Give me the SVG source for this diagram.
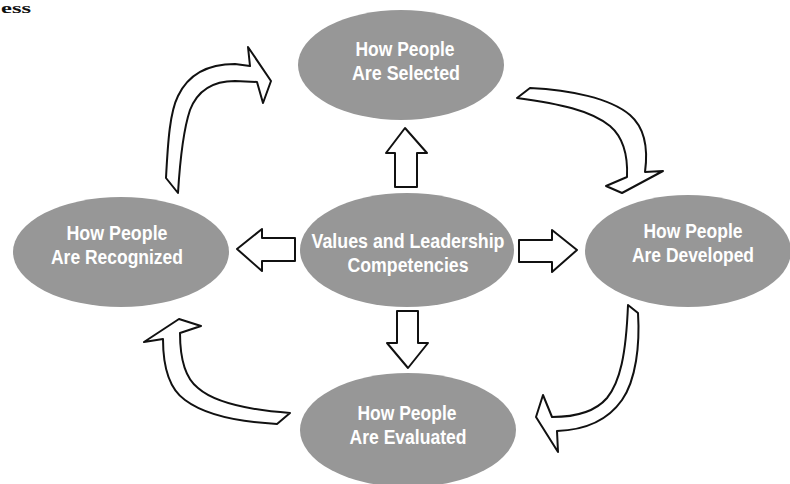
<svg xmlns="http://www.w3.org/2000/svg" width="790" height="484" viewBox="0 0 790 484">
  <style>
    .node { fill: #979797; }
    .label { font-family: "Liberation Sans Narrow", "Liberation Sans", Arial, sans-serif; font-weight: bold; font-size: 20px; fill: #ffffff; text-anchor: middle; }
    .arrow { fill: #ffffff; stroke: #111111; stroke-width: 2; stroke-linejoin: round; }
    .caption { font-family: "Liberation Serif", "Times New Roman", serif; font-weight: bold; font-size: 15px; fill: #111111; }
  </style>
  <rect width="790" height="484" fill="#ffffff"/>

  <!-- caption text at the top edge -->
  <text class="caption" x="1" y="13" textLength="30" lengthAdjust="spacingAndGlyphs">ess</text>

  <!-- connectors: block arrows from the centre and curved cycle arrows -->
  <g id="connectors">
    <!-- up -->
    <path class="arrow" d="M395,187 L395,153 L386,153 L405,128 L427,153 L417,153 L417,187 Z"/>
    <!-- down -->
    <path class="arrow" d="M397,311 L418,311 L418,343 L428,343 L408,368 L387,343 L397,343 Z"/>
    <!-- left -->
    <path class="arrow" d="M295,238 L262,238 L262,229 L237,249 L262,271 L262,261 L295,261 Z"/>
    <!-- right -->
    <path class="arrow" d="M519,240 L552,240 L552,230 L577,250 L552,272 L552,262 L519,262 Z"/>

    <!-- Recognized -> Selected -->
    <path class="arrow" d="M166,178 C168,140 170,112 178,96 C188,75 208,64 235,64 L250,66 L248,47 L271,81 L263,103 L257,82 L235,81 C212,81 197,92 190,110 C184,128 180,160 178,193 Z"/>
    <!-- Selected -> Developed -->
    <path class="arrow" d="M517,98 L530,88 C570,90 610,98 630,115 C645,128 648,150 645,172 L663,171 L622,193 L606,186 L627,177 C628,155 624,138 610,126 C590,110 560,104 517,98 Z"/>
    <!-- Developed -> Evaluated -->
    <path class="arrow" d="M628,305 L638,313 C640,345 636,380 622,400 C608,420 585,430 557,431 L558,452 L536,417 L543,395 L552,417 C575,417 595,412 607,398 C620,382 626,355 628,305 Z"/>
    <!-- Evaluated -> Recognized -->
    <path class="arrow" d="M290,413 L277,424 C240,422 205,415 185,400 C168,388 163,365 163,339 L144,342 L179,319 L201,326 L180,333 C180,360 185,378 198,388 C215,403 250,410 290,413 Z"/>
  </g>

  <g id="node-selected">
    <ellipse class="node" cx="401" cy="65" rx="103" ry="55"/>
    <text class="label" x="405" y="56" textLength="99" lengthAdjust="spacingAndGlyphs">How People</text>
    <text class="label" x="406" y="80" textLength="108" lengthAdjust="spacingAndGlyphs">Are Selected</text>
  </g>

  <g id="node-recognized">
    <ellipse class="node" cx="121" cy="252" rx="108" ry="55"/>
    <text class="label" x="117" y="240" textLength="101" lengthAdjust="spacingAndGlyphs">How People</text>
    <text class="label" x="117" y="264" textLength="132" lengthAdjust="spacingAndGlyphs">Are Recognized</text>
  </g>

  <g id="node-values">
    <ellipse class="node" cx="407" cy="250" rx="107" ry="57"/>
    <text class="label" x="408" y="248" textLength="193" lengthAdjust="spacingAndGlyphs">Values and Leadership</text>
    <text class="label" x="408" y="272" textLength="121" lengthAdjust="spacingAndGlyphs">Competencies</text>
  </g>

  <g id="node-developed">
    <ellipse class="node" cx="688" cy="251" rx="103" ry="56"/>
    <text class="label" x="693" y="238" textLength="99" lengthAdjust="spacingAndGlyphs">How People</text>
    <text class="label" x="693" y="262" textLength="122" lengthAdjust="spacingAndGlyphs">Are Developed</text>
  </g>

  <g id="node-evaluated">
    <ellipse class="node" cx="408" cy="430" rx="108" ry="57"/>
    <text class="label" x="407" y="420" textLength="99" lengthAdjust="spacingAndGlyphs">How People</text>
    <text class="label" x="408" y="444" textLength="117" lengthAdjust="spacingAndGlyphs">Are Evaluated</text>
  </g>
</svg>
